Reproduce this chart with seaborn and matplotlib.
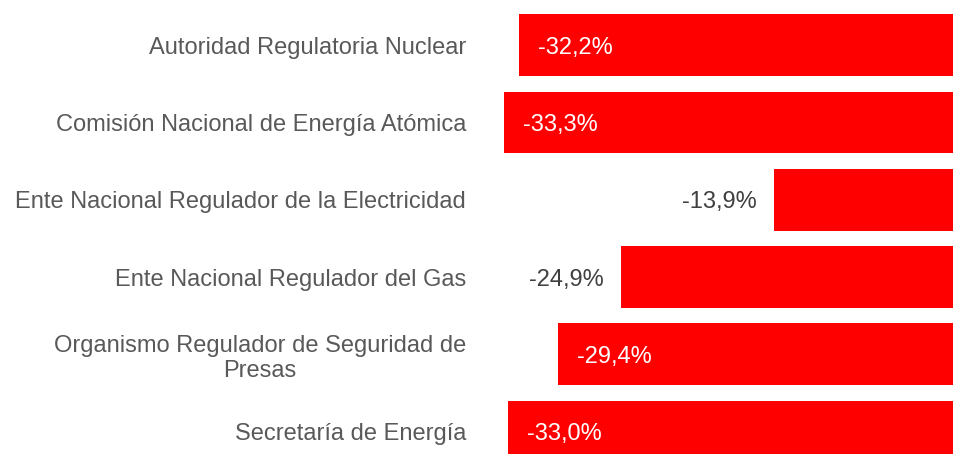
import matplotlib
matplotlib.use("Agg")
import matplotlib.pyplot as plt
import seaborn as sns
import pandas as pd

categories = [
    "Autoridad Regulatoria Nuclear",
    "Comisión Nacional de Energía Atómica",
    "Ente Nacional Regulador de la Electricidad",
    "Ente Nacional Regulador del Gas",
    "Organismo Regulador de Seguridad de\nPresas",
    "Secretaría de Energía",
]
values = [-32.2, -33.3, -13.9, -24.9, -29.4, -33.0]
value_labels = ["-32,2%", "-33,3%", "-13,9%", "-24,9%", "-29,4%", "-33,0%"]

sns.set_theme(style="white")
plt.rcParams["font.family"] = ["Liberation Sans", "DejaVu Sans"]

df = pd.DataFrame({"cat": categories, "val": values})

fig = plt.figure(figsize=(9.54, 4.54), dpi=100)
# axes extends a little past the right and bottom edges so bars are cut by the figure edge
ax = fig.add_axes([480 / 954, -10 / 454, 480 / 954, 464 / 454])
sns.barplot(data=df, y="cat", x="val", orient="h", color="#ff0000",
            saturation=1, width=0.8, linewidth=0, edgecolor="none", ax=ax)

ax.set_xlim(-35.02, -35.02 + 480 / 13.92)
ax.set_ylim(5.421, -0.587)
ax.set_xlabel("")
ax.set_ylabel("")
ax.set_xticks([])
for s in ax.spines.values():
    s.set_visible(False)
ax.tick_params(axis="y", length=0, pad=10, labelsize=17, labelcolor="#595959")
for t in ax.get_yticklabels():
    t.set_multialignment("center")

for i, (v, lab) in enumerate(zip(values, value_labels)):
    if v > -27:
        ax.annotate(lab, xy=(v, i), xytext=(-17, 0), textcoords="offset pixels",
                    ha="right", va="center_baseline", fontsize=17, color="#404040")
    else:
        ax.annotate(lab, xy=(v, i), xytext=(19, 0), textcoords="offset pixels",
                    ha="left", va="center_baseline", fontsize=17, color="white")

fig.savefig("out.png", dpi=100)
